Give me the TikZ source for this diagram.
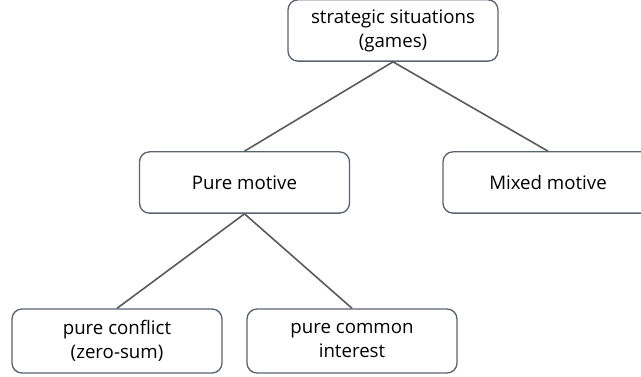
\documentclass[tikz,border=0pt]{standalone}
\usepackage{fontspec}
\setmainfont{Open Sans}
\definecolor{boxline}{RGB}{90,98,112}
\definecolor{edgeline}{RGB}{90,90,90}
\tikzset{
  box/.style={draw=boxline, line width=1pt, rounded corners=7.5pt, align=center,
    minimum width=157.5pt, minimum height=46pt, inner sep=2pt, font=\fontsize{14}{18}\selectfont},
  edge/.style={draw=edgeline, line width=1.2pt}
}
\begin{document}
\begin{tikzpicture}[x=0.75pt,y=0.75pt,yscale=-1,xscale=1]
\useasboundingbox (0,0) rectangle (641,377);

% Nodes
\node[box] (games) at (393,30.5) {strategic situations\\(games)};
\node[box] (pure) at (244.5,182.5) {Pure motive};
\node[box] (mixed) at (548,182.5) {Mixed motive};
\node[box, minimum height=48pt] (conflict) at (117,341) {pure conflict\\(zero-sum)};
\node[box, minimum height=48pt] (common) at (352,341) {pure common\\interest};

% Connectors
\draw[edge] (games.south) -- (pure.north);
\draw[edge] (games.south) -- (mixed.north);
\draw[edge] (pure.south) -- (conflict.north);
\draw[edge] (pure.south) -- (common.north);

\end{tikzpicture}
\end{document}
